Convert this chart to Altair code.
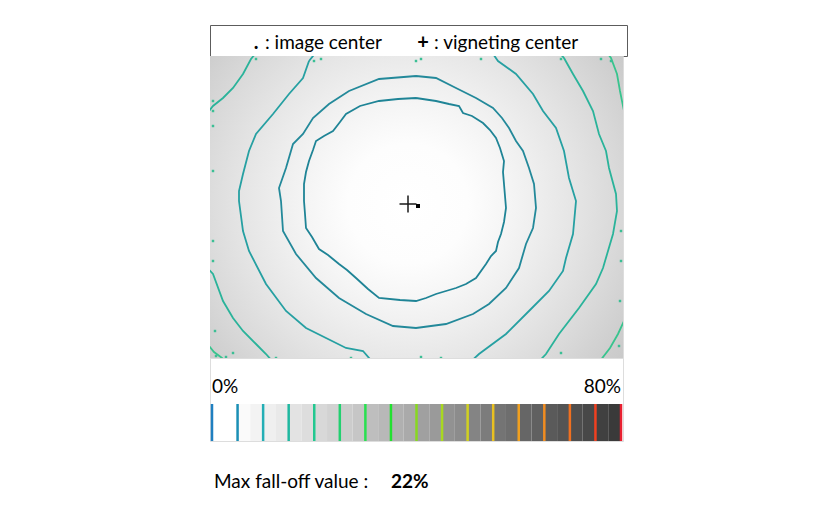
import altair as alt
import pandas as pd

# ---------------- data ----------------
IMG_W, IMG_H = 413, 302          # vignetting map size (image pixels)

legend_symbols = [".", "+"]
legend_labels = [": image center", ": vigneting center"]

image_center = (208, 150)
vignetting_center = (198, 148)

# radial fall-off of the background (radius in image px -> gray)
bg_radius = 280
bg_stop_radius = [0, 60, 100, 130, 170, 210, 250, 280]
bg_stop_gray = ["#ffffff", "#fdfdfd", "#f5f5f5", "#eeeeee",
                "#e4e4e4", "#d9d9d9", "#cdcdcd", "#c6c6c6"]

# iso fall-off contours (image px)
c1_x = [206, 226, 239, 249, 253, 262, 273, 280, 286, 290, 294, 293, 294, 296, 294, 291, 288, 286, 281, 276,
        266, 256, 246, 236, 226, 216, 206, 190, 169, 158, 146, 137, 129, 118, 109, 102, 96, 95, 94, 94,
        96, 99, 103, 106, 114, 123, 130, 136, 150, 169, 188, 206]
c1_y = [42, 45, 48, 50, 57, 60, 67, 74, 82, 92, 105, 116, 128, 152, 166, 178, 186, 195, 200, 208,
        222, 228, 232, 235, 238, 242, 245, 244, 242, 233, 222, 214, 208, 199, 193, 181, 172, 158, 145, 128,
        116, 105, 94, 85, 80, 75, 66, 58, 50, 45, 43, 42]
c2_x = [206, 226, 246, 266, 283, 292, 299, 306, 313, 319, 324, 326, 323, 316, 309, 296, 279, 263, 236, 206,
        183, 156, 129, 106, 86, 73, 71, 69, 76, 83, 93, 103, 119, 139, 169, 206]
c2_y = [20, 22, 32, 42, 52, 62, 72, 85, 95, 112, 128, 152, 172, 188, 212, 232, 248, 258, 268, 272,
        270, 258, 242, 222, 198, 175, 145, 132, 112, 88, 78, 62, 48, 35, 23, 20]
c3_x = [99, 111, 151, 197, 241, 281, 288, 306, 323, 333, 346, 354, 359, 366, 363, 356, 353, 339, 319, 296,
        269, 256, 211, 166, 153, 136, 116, 96, 76, 56, 39, 33, 29, 29, 33, 39, 46, 63, 79, 93, 99]
c3_y = [5, -10, -20, -23, -20, -5, 5, 18, 38, 55, 72, 95, 122, 145, 178, 202, 215, 235, 255, 278,
        298, 310, 317, 310, 295, 292, 282, 272, 255, 228, 195, 175, 145, 135, 118, 95, 78, 58, 38, 22, 5]
c4_x = [354, 363, 373, 383, 389, 396, 399, 406, 407, 403, 393, 386, 369, 349, 336, 320, 271, 197, 121, 71,
        56, 46, 33, 23, 13, 3, -9, -14, -9, 3, 13, 23, 33, 41, 60, 120, 197, 280, 335, 354]
c4_y = [2, 18, 35, 55, 78, 95, 112, 138, 155, 178, 212, 228, 252, 278, 298, 315, 340, 356, 340, 315,
        298, 288, 275, 262, 245, 218, 205, 145, 65, 50, 42, 32, 18, 3, -20, -45, -55, -45, -20, 2]
c5_x = [385, 401, 407, 410, 414, 440, 414, 408, 400, 390, 380, 25, 12, 4, -5, -40, -10, 385]
c5_y = [-20, 2, 18, 35, 55, 150, 265, 278, 292, 305, 320, 315, 302, 296, 285, 150, -5, -20]

contour_names = ["c1", "c2", "c3", "c4", "c5"]
contour_xs = [c1_x, c2_x, c3_x, c4_x, c5_x]
contour_ys = [c1_y, c2_y, c3_y, c4_y, c5_y]
contour_colors = ["#1f8496", "#23899a", "#26a0a2", "#2ab39a", "#38c48e"]

# small contour fragments along the image border (image px)
speck_x = [46, 104, 111, 206, 211, 271, 351, 391, 401, 3, 3, 3, 3, 3, 3, 5, 6, 16, 23, 66, 141, 211, 231, 351,
           411, 411, 410, 409]
speck_y = [3, 5, 3, 5, 3, 3, 3, 3, 5, 45, 55, 70, 115, 185, 205, 275, 300, 301, 297, 302, 302, 301, 302, 297,
           175, 205, 245, 290]

# colour scale bar
levels = [0, 5, 10, 15, 20, 25, 30, 35, 40, 45, 50, 55, 60, 65, 70, 75, 80]
level_colors = ["#1f7fc0", "#1b8fb5", "#23aeb5", "#1fb8a0", "#22c890", "#22d070", "#28e050", "#22e030",
                "#88d820", "#a8d820", "#d0d020", "#e8c020", "#f0a020", "#f08c20", "#f07020", "#f04020",
                "#e82030"]
block_grays = ["#ffffff", "#ffffff", "#fafafa", "#f3f3f3", "#efefef", "#e9e9e9", "#e3e3e3", "#dddddd",
               "#d8d8d8", "#d2d2d2", "#cccccc", "#c6c6c6", "#bebebe", "#b8b8b8", "#b0b0b0", "#aaaaaa",
               "#a0a0a0", "#9a9a9a", "#929292", "#8c8c8c", "#848484", "#7c7c7c", "#747474", "#6e6e6e",
               "#666666", "#606060", "#5a5a5a", "#545454", "#4e4e4e", "#484848", "#404040", "#3a3a3a"]

max_falloff = 22

FONT = "Lato"

# ---------------- tables ----------------
rows = []
for name, xs, ys, col in zip(contour_names, contour_xs, contour_ys, contour_colors):
    for i, (x, y) in enumerate(zip(xs, ys)):
        rows.append({"contour": name, "i": i, "x": x, "y": y, "color": col})
contours = pd.DataFrame(rows)
specks = pd.DataFrame({"x": speck_x, "y": speck_y})

cx, cy = vignetting_center
bg = pd.DataFrame({"x0": [cx - bg_radius], "x1": [cx + bg_radius],
                   "y0": [cy - bg_radius], "y1": [cy + bg_radius]})
centers = pd.DataFrame({"x": [vignetting_center[0], image_center[0]],
                        "y": [vignetting_center[1], image_center[1]],
                        "kind": ["vignetting", "image"]})

blk_start, blk_end = [], []
for a, b in zip(levels[:-1], levels[1:]):
    m = (a + b) / 2
    blk_start += [a, m]
    blk_end += [m, b]
blocks = pd.DataFrame({"s": blk_start, "e": blk_end, "g": block_grays})
lines = pd.DataFrame({"v": levels, "c": level_colors})
ends = pd.DataFrame({"v": [levels[0]], "t": [f"{levels[0]}%"]})
ends_r = pd.DataFrame({"v": [levels[-1]], "t": [f"{levels[-1]}%"]})


# ---------------- legend box ----------------
def txt(t, x, y, weight="normal", align="left", size=19):
    return alt.Chart(pd.DataFrame({"t": [t]})).mark_text(
        align=align, baseline="alphabetic", font=FONT, fontSize=size,
        fontWeight=weight, color="black"
    ).encode(x=alt.value(x), y=alt.value(y), text="t:N")


legend = alt.layer(
    txt(legend_symbols[0], 46, 24, "bold", "center", 20),
    txt(legend_labels[0], 55, 24),
    txt(legend_symbols[1], 213, 24, "bold", "center", 20),
    txt(legend_labels[1], 224, 24),
).properties(width=417, height=31,
             view=alt.ViewBackground(stroke="#5c5c5c", strokeWidth=1))

# ---------------- vignetting map ----------------
xs = alt.Scale(domain=[0, IMG_W], nice=False, zero=False)
ys = alt.Scale(domain=[0, IMG_H], nice=False, zero=False, reverse=True)

grad = alt.RadialGradient(
    gradient="radial",
    stops=[alt.GradientStop(offset=r / bg_radius, color=g) for r, g in zip(bg_stop_radius, bg_stop_gray)],
    x1=0.5, y1=0.5, r1=0, x2=0.5, y2=0.5, r2=0.5,
)

bg_layer = alt.Chart(bg).mark_rect(clip=True, fill=grad, strokeWidth=0).encode(
    x=alt.X("x0:Q", scale=xs, axis=None), x2="x1:Q",
    y=alt.Y("y0:Q", scale=ys, axis=None), y2="y1:Q",
)
contour_layer = alt.Chart(contours).mark_line(clip=True, strokeWidth=1.8).encode(
    x=alt.X("x:Q", scale=xs, axis=None),
    y=alt.Y("y:Q", scale=ys, axis=None),
    color=alt.Color("color:N", scale=None),
    detail="contour:N",
    order="i:Q",
)
speck_layer = alt.Chart(specks).mark_square(size=6, color="#3cbf95", opacity=1, clip=True).encode(
    x=alt.X("x:Q", scale=xs, axis=None), y=alt.Y("y:Q", scale=ys, axis=None))
cross_layer = alt.Chart(centers[centers.kind == "vignetting"]).mark_point(
    shape="M-1,0H1M0,-1V1", size=289, filled=False, stroke="#1a1a1a", strokeWidth=1.5, opacity=1
).encode(x=alt.X("x:Q", scale=xs, axis=None), y=alt.Y("y:Q", scale=ys, axis=None))
dot_layer = alt.Chart(centers[centers.kind == "image"]).mark_square(
    size=16, color="black", opacity=1
).encode(x=alt.X("x:Q", scale=xs, axis=None), y=alt.Y("y:Q", scale=ys, axis=None))

image = alt.layer(bg_layer, contour_layer, speck_layer, cross_layer, dot_layer).properties(
    width=IMG_W, height=IMG_H)

# ---------------- colour bar ----------------
BAR_TOP, BAR_BOTTOM = 46, 83
bx = alt.Scale(domain=[levels[0], levels[-1]], range=[2, 411], nice=False, zero=False)
bar_blocks = alt.Chart(blocks).mark_rect(strokeWidth=0).encode(
    x=alt.X("s:Q", scale=bx, axis=None), x2="e:Q",
    y=alt.value(BAR_TOP), y2=alt.value(BAR_BOTTOM),
    color=alt.Color("g:N", scale=None),
)
bar_lines = alt.Chart(lines).mark_rule(strokeWidth=2.5).encode(
    x=alt.X("v:Q", scale=bx, axis=None),
    y=alt.value(BAR_TOP), y2=alt.value(BAR_BOTTOM),
    color=alt.Color("c:N", scale=None))
lab_l = alt.Chart(ends).mark_text(align="left", baseline="alphabetic", font=FONT, fontSize=19,
                                  color="black").encode(
    x=alt.X("v:Q", scale=bx, axis=None), y=alt.value(35), text="t:N")
lab_r = alt.Chart(ends_r).mark_text(align="right", baseline="alphabetic", font=FONT, fontSize=19,
                                    color="black").encode(
    x=alt.X("v:Q", scale=bx, axis=None), y=alt.value(35), text="t:N")

bar = alt.layer(
    bar_blocks, bar_lines, lab_l, lab_r,
    txt("Max fall-off value :", 4, 130),
    txt(f"{max_falloff}%", 181, 130, "bold"),
).properties(width=IMG_W, height=BAR_BOTTOM)

chart = alt.vconcat(legend, image, bar, spacing=0, bounds="flush").properties(
    padding={"left": 201, "top": 16, "right": 5, "bottom": 5}
).configure_view(strokeWidth=0).configure(background="white")

chart.save("out.html", embed_options={"renderer": "svg", "actions": False})
